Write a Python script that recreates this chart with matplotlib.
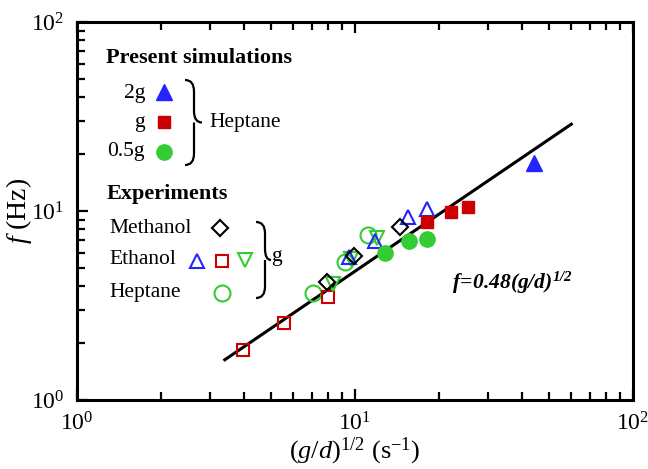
import numpy as np
import matplotlib
matplotlib.use('Agg')
from matplotlib import pyplot as plt
from matplotlib.path import Path
from matplotlib.patches import PathPatch

plt.rcParams['font.family'] = ['Liberation Serif', 'DejaVu Serif']
plt.rcParams['mathtext.fontset'] = 'custom'
plt.rcParams['mathtext.rm'] = 'Liberation Serif'
plt.rcParams['mathtext.it'] = 'Liberation Serif:italic'
plt.rcParams['mathtext.bf'] = 'Liberation Serif:bold'
plt.rcParams['mathtext.bfit'] = 'Liberation Serif:italic:bold'

BLUE = '#2424ff'
RED = '#cc0000'
GREEN = '#33cc33'

# present simulations (heptane)
sim_2g_x = [44.0]
sim_2g_y = [17.9]
sim_g_x = [18.2, 22.2, 25.5]
sim_g_y = [8.7, 9.9, 10.5]
sim_05g_x = [12.8, 15.6, 18.2]
sim_05g_y = [6.0, 6.9, 7.1]

# experiments
methanol_x = [7.9, 9.9, 14.5]
methanol_y = [4.2, 5.8, 8.2]
ethanol_tri_x = [9.5, 11.8, 15.5, 18.2]
ethanol_tri_y = [5.7, 6.9, 9.3, 10.3]
ethanol_sq_x = [3.96, 5.55, 8.0]
ethanol_sq_y = [1.84, 2.56, 3.51]
ethanol_dn_x = [8.3, 9.7, 12.0]
ethanol_dn_y = [4.1, 5.6, 7.2]
heptane_x = [7.06, 9.2, 11.1]
heptane_y = [3.68, 5.37, 7.46]

fit_x = np.array([3.4, 60.0])
fit_coef = 0.48

fig = plt.figure(figsize=(6.48, 4.69), dpi=100)
ax = fig.add_axes([77 / 648, 1 - 400 / 469, 556 / 648, 378 / 469])
ax.set_xscale('log')
ax.set_yscale('log')
ax.set_xlim(1, 100)
ax.set_ylim(1, 100)

ax.plot(fit_x, fit_coef * fit_x, color='black', lw=2.2, zorder=2)

ms_open = dict(mfc='none', mew=1.5, ls='none', zorder=3)
ax.plot(heptane_x, heptane_y, 'o', ms=11.5, mec=GREEN, **ms_open)
ax.plot(ethanol_sq_x, ethanol_sq_y, 's', ms=9, mec=RED, **ms_open)
ax.plot(ethanol_dn_x, ethanol_dn_y, 'v', ms=10, mec=GREEN, **ms_open)
ax.plot(ethanol_tri_x, ethanol_tri_y, '^', ms=10, mec=BLUE, **ms_open)
ax.plot(methanol_x, methanol_y, 'D', ms=8, mec='black', **ms_open)

ax.plot(sim_05g_x, sim_05g_y, 'o', ms=11, color=GREEN, ls='none', zorder=4)
ax.plot(sim_g_x, sim_g_y, 's', ms=9, color=RED, ls='none', zorder=4)
ax.plot(sim_2g_x, sim_2g_y, '^', ms=11, color=BLUE, ls='none', zorder=4)

for s in ax.spines.values():
    s.set_linewidth(2.2)
ax.tick_params(which='both', direction='in', top=True, right=False, width=1.6, labelsize=17)
ax.tick_params(which='major', length=8, pad=9)
ax.tick_params(which='minor', length=6)

ax.set_xlabel(r'$(g/d)^{\mathit{1/2}}$ (s$^{\mathrm{-1}}$)', fontsize=19, labelpad=0)
ax.set_ylabel(r'$f$ (Hz)', fontsize=20, labelpad=-2)


def px(x, y):
    return ((x - 77) / 556, (400 - y) / 378)


def brace(x0, ytop, ybot, w, nub):
    xt, yt = px(x0, ytop)
    xb, yb = px(x0, ybot)
    xw = px(x0 + w, 0)[0]
    xn = px(x0 + w + nub, 0)[0]
    ym = (yt + yb) / 2
    r = 0.03
    verts = [(xt, yt), (xw, yt), (xw, yt - r), (xw, ym + r), (xw, ym), (xn, ym),
             (xw, ym), (xw, ym - r), (xw, yb + r), (xw, yb), (xb, yb)]
    codes = [Path.MOVETO, Path.CURVE3, Path.CURVE3, Path.LINETO, Path.CURVE3, Path.LINETO,
             Path.MOVETO, Path.CURVE3, Path.LINETO, Path.CURVE3, Path.CURVE3]
    ax.add_patch(PathPatch(Path(verts, codes), fc='none', ec='black', lw=1.6,
                           transform=ax.transAxes, clip_on=False))


def glyph(x, y, marker, **kw):
    ax.plot(*px(x, y), marker=marker, transform=ax.transAxes, clip_on=False, ls='none', **kw)


T = ax.transAxes
fs = 15.5
ax.text(*px(106, 58), 'Present simulations', transform=T, fontsize=16, fontweight='bold', va='center')
ax.text(*px(145, 93), '2g', transform=T, fontsize=fs, ha='right', va='center')
ax.text(*px(145, 122), 'g', transform=T, fontsize=fs, ha='right', va='center')
ax.text(*px(145, 151), '0.5g', transform=T, fontsize=fs, ha='right', va='center')
glyph(164, 92, '^', ms=11, color=BLUE)
glyph(164, 122, 's', ms=9, color=RED)
glyph(164, 152, 'o', ms=11, color=GREEN)
brace(185, 80, 165, 9, 8)
ax.text(*px(209, 122), 'Heptane', transform=T, fontsize=fs, va='center')

ax.text(*px(107, 194), 'Experiments', transform=T, fontsize=16, fontweight='bold', va='center')
ax.text(*px(109, 228), 'Methanol', transform=T, fontsize=fs, va='center')
ax.text(*px(109, 260), 'Ethanol', transform=T, fontsize=fs, va='center')
ax.text(*px(109, 292), 'Heptane', transform=T, fontsize=fs, va='center')
glyph(220, 228, 'D', ms=8, mfc='none', mec='black', mew=1.5)
glyph(197, 261, '^', ms=10, mfc='none', mec=BLUE, mew=1.5)
glyph(222, 261, 's', ms=9, mfc='none', mec=RED, mew=1.5)
glyph(245, 260, 'v', ms=10, mfc='none', mec=GREEN, mew=1.5)
glyph(222, 293, 'o', ms=11.5, mfc='none', mec=GREEN, mew=1.5)
brace(256, 222, 298, 9, 6)
ax.text(*px(271, 257), 'g', transform=T, fontsize=fs, va='center')

ax.text(*px(452, 283), r'$\mathbfit{f\!=\!0.48(g/d)^{1/2}}$', transform=T, fontsize=15.5, va='center')

fig.savefig('out.png', dpi=100)
